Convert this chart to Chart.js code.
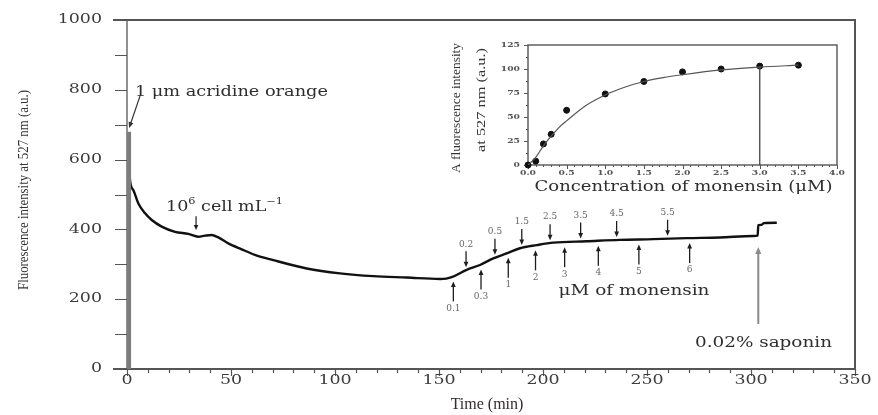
<!DOCTYPE html>
<html>
<head>
<meta charset="utf-8">
<script src="https://cdn.jsdelivr.net/npm/chart.js@4"></script>
<style>
  html, body { margin: 0; padding: 0; background: #fff; }
  #wrap { position: relative; width: 878px; height: 415px; }
  #main { position: absolute; left: 0; top: 0; }
  #inset { position: absolute; left: 440px; top: 28px; }
</style>
</head>
<body>
<div id="wrap">
  <canvas id="main" width="878" height="415"></canvas>
  <canvas id="inset" width="405" height="175"></canvas>
</div>
<script>
// main trace: fluorescence at 527 nm vs time
const spikeTime = [1, 1];
const spikeValue = [0, 680];
const timeMin = [1.0, 1.44, 3.0, 5.4, 8.7, 11.9, 16.7, 23.1, 29.5, 34.3,
  37.5, 40.7, 43.9, 48.7, 55.1, 61.5, 70.3, 86.4, 102.4, 118.4,
  134.5, 150.5, 153.5, 156.1, 163.3, 169.7, 176.1, 182.5, 188.9, 197.0,
  205.0, 221.0, 237.0, 253.0, 269.1, 285.1, 301.1, 303.2, 303.5, 305.0,
  306.2, 312.4];
const fluorescence = [600, 541, 513, 475, 446, 427, 408, 393, 387, 379,
  382, 384, 377, 360, 343, 327, 312, 288, 274, 266,
  262, 258, 259, 263, 284, 298, 317, 331, 346, 355,
  362, 366, 370, 372, 375, 377, 381, 382, 412, 413,
  418, 419];

// monensin additions (µM) and when they were made (min)
const addDownUM = ['0.2', '0.5', '1.5', '2.5', '3.5', '4.5', '5.5'];
const addDownMin = [163.0, 176.9, 189.8, 203.4, 218.1, 235.4, 259.9];
const addUpUM = ['0.1', '0.3', '1', '2', '3', '4', '5', '6'];
const addUpMin = [156.9, 170.2, 183.3, 196.4, 210.4, 226.6, 246.1, 270.5];
const saponinMin = 303.5;

const xTickValues = [0, 50, 100, 150, 200, 250, 300, 350];
const yTickValues = [0, 200, 400, 600, 800, 1000];

// inset: Δ fluorescence vs monensin concentration
const concUM = [0, 0.1, 0.2, 0.3, 0.5, 1.0, 1.5, 2.0, 2.5, 3.0, 3.5];
const deltaF = [0, 4, 22, 32, 57, 74, 87, 97, 100, 103, 104];
const fitConc = [0, 0.1, 0.2, 0.3, 0.4, 0.5, 0.75, 1.0, 1.25, 1.5, 1.75, 2.0, 2.5, 3.0, 3.5];
const fitF = [0, 8, 20, 30, 39, 46, 62, 73, 81, 87, 91, 94, 99, 102, 104];
const insetXTicks = ['0.0', '0.5', '1.0', '1.5', '2.0', '2.5', '3.0', '3.5', '4.0'];
const insetYTicks = [0, 25, 50, 75, 100, 125];

const SERIF = '"DejaVu Serif"';
const TIMES = '"Liberation Serif"';

// text, optionally squeezed/stretched to a given width
function txt(ctx, s, x, y, o) {
  ctx.save();
  ctx.font = o.font;
  ctx.fillStyle = o.color || '#2e2e2e';
  ctx.textBaseline = 'middle';
  const w = ctx.measureText(s).width;
  const sx = o.width ? o.width / w : (o.sx || 1);
  ctx.translate(x, y);
  if (o.rot) ctx.rotate(o.rot);
  ctx.scale(sx, 1);
  const a = o.align || 'center';
  const dx = a === 'center' ? -w / 2 : a === 'right' ? -w : 0;
  ctx.fillText(s, dx, 0);
  ctx.restore();
}

function arrow(ctx, x1, y1, x2, y2, o = {}) {
  const ang = Math.atan2(y2 - y1, x2 - x1), hl = o.head || 6, hw = o.hw || 2.5;
  ctx.save();
  ctx.strokeStyle = ctx.fillStyle = o.color || '#1e1e1e';
  ctx.lineWidth = o.lw || 1.3;
  ctx.beginPath();
  ctx.moveTo(x1, y1);
  ctx.lineTo(x2 - Math.cos(ang) * hl * 0.8, y2 - Math.sin(ang) * hl * 0.8);
  ctx.stroke();
  ctx.translate(x2, y2);
  ctx.rotate(ang);
  ctx.beginPath();
  ctx.moveTo(0, 0); ctx.lineTo(-hl, -hw); ctx.lineTo(-hl, hw);
  ctx.closePath(); ctx.fill();
  ctx.restore();
}

function curveAt(t) {
  for (let i = 1; i < timeMin.length; i++) {
    if (t <= timeMin[i]) {
      const f = (t - timeMin[i - 1]) / (timeMin[i] - timeMin[i - 1]);
      return fluorescence[i - 1] + f * (fluorescence[i] - fluorescence[i - 1]);
    }
  }
  return fluorescence[fluorescence.length - 1];
}

const mainDeco = {
  id: 'mainDeco',
  beforeDatasetsDraw(chart) {
    const { ctx, chartArea: a, scales: { x, y } } = chart;
    ctx.save();
    ctx.strokeStyle = '#555';
    ctx.lineWidth = 2;
    ctx.beginPath();
    ctx.moveTo(a.left - 14, a.top); ctx.lineTo(a.right, a.top); ctx.lineTo(a.right, a.bottom);
    ctx.stroke();
    ctx.beginPath();
    ctx.moveTo(a.left - 14, a.bottom); ctx.lineTo(a.right, a.bottom);
    ctx.stroke();
    ctx.lineWidth = 1.3;
    ctx.beginPath();
    ctx.moveTo(a.left, a.top); ctx.lineTo(a.left, a.bottom);
    ctx.stroke();
    ctx.lineWidth = 1.2;
    ctx.beginPath();
    for (let v = 0; v <= 1000; v += 100) {
      const py = Math.round(y.getPixelForValue(v)) + 0.5;
      ctx.moveTo(a.left - 12, py); ctx.lineTo(a.left, py);
    }
    for (let t = 0; t <= 350; t += 10) {
      const px = Math.round(x.getPixelForValue(t)) + 0.5;
      ctx.moveTo(px, a.bottom); ctx.lineTo(px, a.bottom + (t % 50 ? 4 : 7));
    }
    ctx.stroke();
    ctx.restore();
  },
  afterDraw(chart) {
    const { ctx, chartArea: a, scales: { x, y } } = chart;
    const X = t => x.getPixelForValue(t), Y = v => y.getPixelForValue(v);
    const tickFont = { font: '12px ' + SERIF, sx: 1.45, color: '#3c3c3c' };

    yTickValues.forEach(v => txt(ctx, String(v), a.left - 25, Y(v), { ...tickFont, align: 'right' }));
    xTickValues.forEach(t => txt(ctx, String(t), X(t), a.bottom + 12, tickFont));

    txt(ctx, 'Time (min)', (a.left + a.right) / 2 - 4, a.bottom + 36, { font: '16px ' + TIMES, color: '#352b2b' });
    txt(ctx, 'Fluorescence intensity at 527 nm (a.u.)', 24, 190,
      { font: '14px ' + TIMES, width: 200, rot: -Math.PI / 2, color: '#333' });

    // dye addition
    txt(ctx, '1 μm acridine orange', X(3.8), Y(793.7), { font: '15px ' + SERIF, width: 193, align: 'left' });
    arrow(ctx, X(6.25), Y(782), X(1.0), Y(690.5), { lw: 1.2, head: 6, hw: 2.5, color: '#333' });

    // cell addition, with superscripts
    const parts = [['10', 14, 0], ['6', 9, -5], [' cell mL', 14, 0], ['−1', 9, -5]];
    ctx.save();
    let total = 0;
    parts.forEach(p => { ctx.font = p[1] + 'px ' + SERIF; total += ctx.measureText(p[0]).width; });
    const sc = 117 / total;
    ctx.translate(X(18.75), Y(464));
    ctx.scale(sc, 1);
    ctx.fillStyle = '#2e2e2e';
    ctx.textBaseline = 'middle';
    let cx = 0;
    parts.forEach(p => {
      ctx.font = p[1] + 'px ' + SERIF;
      ctx.fillText(p[0], cx, p[2]);
      cx += ctx.measureText(p[0]).width;
    });
    ctx.restore();
    arrow(ctx, X(33.2), Y(438), X(33.2), Y(398), { lw: 1.2, head: 5, hw: 2.3 });

    // monensin additions
    const smallFont = { font: '9px ' + SERIF, color: '#666' };
    addDownMin.forEach((t, i) => {
      const px = X(t), tip = Y(curveAt(t)) - 3, top = tip - 16;
      arrow(ctx, px, top, px, tip, { head: 5.5, hw: 2.4 });
      txt(ctx, addDownUM[i], px, top - 7, smallFont);
    });
    addUpMin.forEach((t, i) => {
      const px = X(t), tip = Y(curveAt(t)) + 5, bot = tip + 20;
      arrow(ctx, px, bot, px, tip, { head: 5.5, hw: 2.4 });
      txt(ctx, addUpUM[i], px, bot + 7, smallFont);
    });
    txt(ctx, 'μM of monensin', X(243.75), Y(223.5), { font: '15px ' + SERIF, width: 151 });

    // saponin
    arrow(ctx, X(saponinMin), Y(129), X(saponinMin), Y(349.6), { color: '#8a8a8a', lw: 2, head: 7, hw: 3 });
    txt(ctx, '0.02% saponin', X(306), Y(74.5), { font: '15px ' + SERIF, width: 137 });
  }
};

new Chart(document.getElementById('main'), {
  type: 'line',
  data: {
    datasets: [
      {
        data: spikeTime.map((t, i) => ({ x: t, y: spikeValue[i] })),
        borderColor: '#7d7d7d', borderWidth: 4, pointRadius: 0
      },
      {
        data: timeMin.map((t, i) => ({ x: t, y: fluorescence[i] })),
        borderColor: '#111', borderWidth: 2.4, pointRadius: 0,
        cubicInterpolationMode: 'monotone'
      }
    ]
  },
  options: {
    responsive: false,
    animation: false,
    events: [],
    layout: { padding: { left: 127, right: 23, top: 20, bottom: 46 } },
    plugins: { legend: { display: false }, tooltip: { enabled: false } },
    scales: {
      x: { type: 'linear', min: 0, max: 350, display: false },
      y: { min: 0, max: 1000, display: false }
    }
  },
  plugins: [mainDeco]
});

const insetDeco = {
  id: 'insetDeco',
  beforeDatasetsDraw(chart) {
    const { ctx, chartArea: a, scales: { x, y } } = chart;
    ctx.save();
    ctx.strokeStyle = '#555';
    ctx.lineWidth = 1.4;
    ctx.strokeRect(a.left, a.top, a.right - a.left, a.bottom - a.top);
    ctx.lineWidth = 1;
    ctx.beginPath();
    for (let i = 0; i <= 10; i++) {
      const py = Math.round(y.getPixelForValue(i * 12.5)) + 0.5;
      ctx.moveTo(a.left - (i % 2 ? 2 : 4), py); ctx.lineTo(a.left, py);
    }
    for (let i = 0; i <= 40; i++) {
      const px = Math.round(x.getPixelForValue(i / 10)) + 0.5;
      ctx.moveTo(px, a.bottom); ctx.lineTo(px, a.bottom + (i % 5 ? 2 : 4));
    }
    ctx.stroke();
    ctx.restore();
  },
  afterDraw(chart) {
    const { ctx, chartArea: a, scales: { x, y } } = chart;
    const tf = { font: 'bold 8px ' + SERIF, sx: 1.15, color: '#555' };
    insetYTicks.forEach(v => txt(ctx, String(v), a.left - 8, y.getPixelForValue(v), { ...tf, align: 'right' }));
    insetXTicks.forEach(s => txt(ctx, s, x.getPixelForValue(parseFloat(s)), a.bottom + 8, tf));
    txt(ctx, 'Concentration of monensin (μM)', (a.left + a.right) / 2 + 1, a.bottom + 22,
      { font: '14px ' + SERIF, width: 298 });
    txt(ctx, 'A fluorescence intensity', a.left - 71, 80,
      { font: '13px ' + TIMES, width: 130, rot: -Math.PI / 2, color: '#333' });
    txt(ctx, 'at 527 nm (a.u.)', a.left - 46, 72,
      { font: '13px ' + TIMES, width: 104, rot: -Math.PI / 2, color: '#333' });
  }
};

new Chart(document.getElementById('inset'), {
  type: 'line',
  data: {
    datasets: [
      {
        data: fitConc.map((c, i) => ({ x: c, y: fitF[i] })),
        borderColor: '#555', borderWidth: 1.2, pointRadius: 0,
        cubicInterpolationMode: 'monotone'
      },
      {
        data: [{ x: concUM[9], y: 0 }, { x: concUM[9], y: deltaF[9] }],
        borderColor: '#444', borderWidth: 1.3, pointRadius: 0
      },
      {
        data: concUM.map((c, i) => ({ x: c, y: deltaF[i] })),
        showLine: false, pointRadius: 3, pointBackgroundColor: '#111',
        pointBorderColor: '#111', clip: false
      }
    ]
  },
  options: {
    responsive: false,
    animation: false,
    events: [],
    layout: { padding: { left: 88, right: 8, top: 17, bottom: 38 } },
    plugins: { legend: { display: false }, tooltip: { enabled: false } },
    scales: {
      x: { type: 'linear', min: 0, max: 4, display: false },
      y: { min: 0, max: 125, display: false }
    }
  },
  plugins: [insetDeco]
});
</script>
</body>
</html>
